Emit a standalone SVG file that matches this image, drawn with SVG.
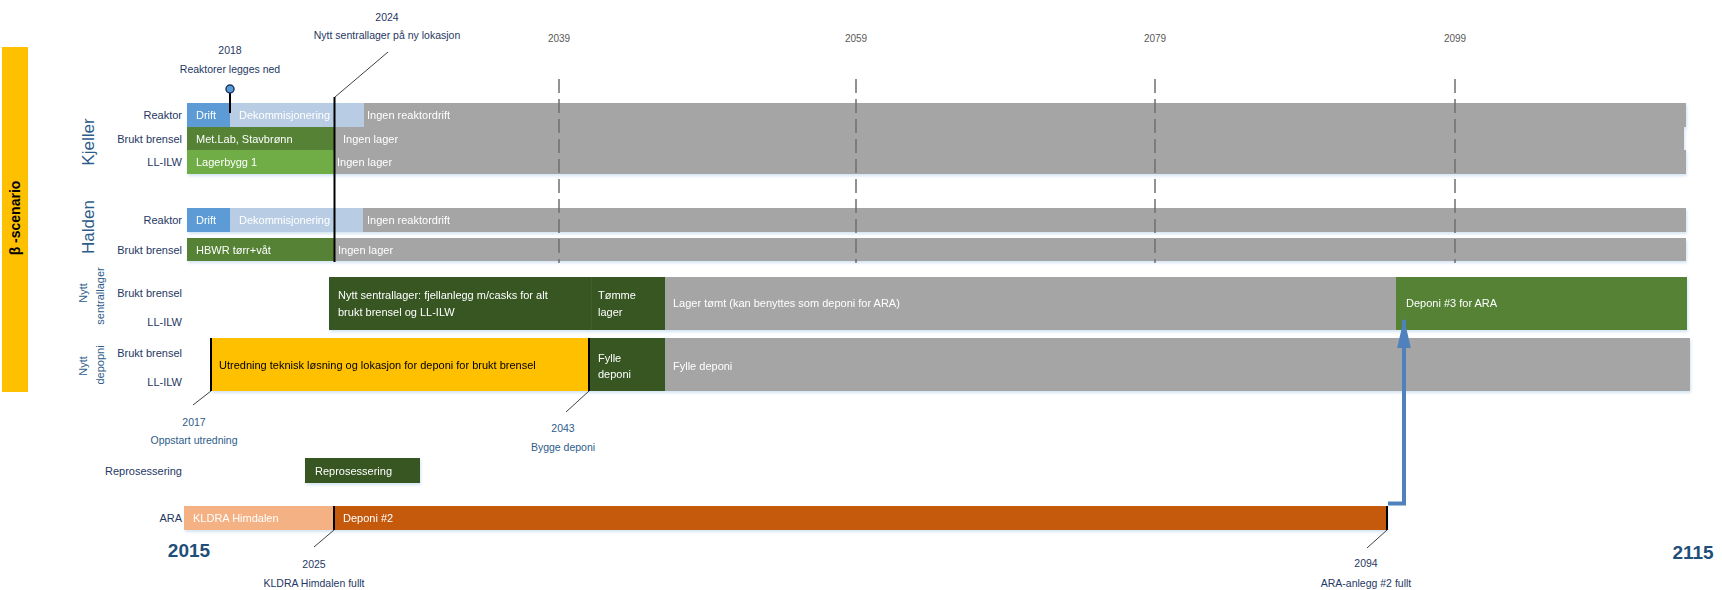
<svg xmlns="http://www.w3.org/2000/svg" width="1722" height="590" viewBox="0 0 1722 590">
<defs>
<style>
text{font-family:"Liberation Sans",Arial,sans-serif;}
.lbl{font-size:11px;fill:#1F3864;text-anchor:end;dominant-baseline:central;}
.grp{font-size:17px;fill:#2E5C8A;text-anchor:middle;dominant-baseline:central;}
.grps{font-size:11px;fill:#2E5C8A;text-anchor:middle;dominant-baseline:central;}
.bt{font-size:11px;fill:#FFFFFF;dominant-baseline:central;}
.btd{font-size:11px;fill:#000000;dominant-baseline:central;}
.yr{font-size:10px;fill:#595959;text-anchor:middle;dominant-baseline:central;}
.ann{font-size:10.5px;fill:#1F3864;text-anchor:middle;dominant-baseline:central;}
.annb{font-size:10.5px;fill:#2E5C8A;text-anchor:middle;dominant-baseline:central;}
.big{font-size:19px;font-weight:bold;fill:#1F4E79;text-anchor:middle;dominant-baseline:central;}
.dash{stroke:#6F6F6F;stroke-width:1.5;stroke-dasharray:14 6;fill:none;}
.lead{stroke:#404040;stroke-width:1;fill:none;}
.mark{stroke:#000000;stroke-width:2;fill:none;}
.gray{fill:#A5A5A5;}
.blue{fill:#5B9BD5;}
.lblue{fill:#B8CCE4;}
.green{fill:#548235;}
.lgreen{fill:#70AD47;}
.dgreen{fill:#375623;}
.yellow{fill:#FFC000;}
.peach{fill:#F4B183;}
.orange{fill:#C55A11;}
</style>
<filter id="sh" x="-5%" y="-20%" width="110%" height="160%">
<feDropShadow dx="1" dy="2" stdDeviation="1.5" flood-color="#9DC3E6" flood-opacity="0.45"/>
</filter>
<marker id="ah" markerWidth="7.5" markerHeight="3.4" refX="7" refY="1.7" orient="auto" markerUnits="strokeWidth">
<path d="M0,0 L7.5,1.7 L0,3.4 Z" fill="#4F81BD"/>
</marker>
</defs>

<!-- scenario bar -->
<g id="scenario">
<rect x="2" y="47" width="26" height="345" fill="#FFC000"/>
<text transform="translate(15,218) rotate(-90)" style="font-size:14px;font-weight:bold;fill:#000;text-anchor:middle;dominant-baseline:central;">β -scenario</text>
</g>

<!-- group labels -->
<g id="group-labels">
<text class="grp" transform="translate(88,142) rotate(-90)">Kjeller</text>
<text class="grp" transform="translate(88,227) rotate(-90)">Halden</text>
<text class="grps" transform="translate(83,293) rotate(-90)">Nytt</text>
<text class="grps" transform="translate(100,296) rotate(-90)">sentrallager</text>
<text class="grps" transform="translate(83,366) rotate(-90)">Nytt</text>
<text class="grps" transform="translate(100,365) rotate(-90)">depopni</text>
</g>

<!-- row labels -->
<g id="row-labels">
<text class="lbl" x="182" y="115">Reaktor</text>
<text class="lbl" x="182" y="138.5">Brukt brensel</text>
<text class="lbl" x="182" y="162">LL-ILW</text>
<text class="lbl" x="182" y="220">Reaktor</text>
<text class="lbl" x="182" y="250">Brukt brensel</text>
<text class="lbl" x="182" y="293">Brukt brensel</text>
<text class="lbl" x="182" y="322">LL-ILW</text>
<text class="lbl" x="182" y="353">Brukt brensel</text>
<text class="lbl" x="182" y="382">LL-ILW</text>
<text class="lbl" x="182" y="471">Reprosessering</text>
<text class="lbl" x="182" y="518">ARA</text>
</g>

<!-- Kjeller -->
<g id="kjeller-reaktor" filter="url(#sh)">
<rect class="gray" x="340" y="103" width="1346" height="24"/>
<rect class="lblue" x="230" y="103" width="134" height="24"/>
<rect class="blue" x="187" y="103" width="43" height="24"/>
<text class="bt" x="196" y="115">Drift</text>
<text class="bt" x="239" y="115">Dekommisjonering</text>
<text class="bt" x="367" y="115">Ingen reaktordrift</text>
</g>
<g id="kjeller-brukt" filter="url(#sh)">
<rect class="gray" x="335" y="127" width="1349" height="23"/>
<rect class="green" x="187" y="127" width="148" height="23"/>
<text class="bt" x="196" y="138.5">Met.Lab, Stavbrønn</text>
<text class="bt" x="343" y="138.5">Ingen lager</text>
</g>
<g id="kjeller-llilw" filter="url(#sh)">
<rect class="gray" x="335" y="150" width="1351" height="24"/>
<rect class="lgreen" x="187" y="150" width="148" height="24"/>
<text class="bt" x="196" y="162">Lagerbygg 1</text>
<text class="bt" x="337" y="162">Ingen lager</text>
</g>

<!-- Halden -->
<g id="halden-reaktor" filter="url(#sh)">
<rect class="gray" x="357" y="208" width="1329" height="24"/>
<rect class="lblue" x="230" y="208" width="133" height="24"/>
<rect class="blue" x="187" y="208" width="43" height="24"/>
<text class="bt" x="196" y="220">Drift</text>
<text class="bt" x="239" y="220">Dekommisjonering</text>
<text class="bt" x="367" y="220">Ingen reaktordrift</text>
</g>
<g id="halden-brukt" filter="url(#sh)">
<rect class="gray" x="334" y="238" width="1352" height="23"/>
<rect class="green" x="187" y="238" width="147" height="23"/>
<text class="bt" x="196" y="249.5">HBWR tørr+våt</text>
<text class="bt" x="338" y="249.5">Ingen lager</text>
</g>

<!-- Nytt sentrallager -->
<g id="sentrallager" filter="url(#sh)">
<rect class="dgreen" x="329" y="277" width="263" height="53"/>
<rect class="dgreen" x="592" y="277" width="73" height="53"/>
<line x1="591.5" y1="277" x2="591.5" y2="330" stroke="#3E5F2A" stroke-width="1"/>
<rect class="gray" x="665" y="277" width="731" height="53"/>
<rect class="green" x="1396" y="277" width="291" height="53"/>
<text class="bt" x="338" y="295">Nytt sentrallager: fjellanlegg m/casks for alt</text>
<text class="bt" x="338" y="312">brukt brensel og LL-ILW</text>
<text class="bt" x="598" y="295">Tømme</text>
<text class="bt" x="598" y="312">lager</text>
<text class="bt" x="673" y="303">Lager tømt (kan benyttes som deponi for ARA)</text>
<text class="bt" x="1406" y="303">Deponi #3 for ARA</text>
</g>

<!-- Nytt deponi -->
<g id="deponi" filter="url(#sh)">
<rect class="yellow" x="211" y="338" width="378" height="53"/>
<rect class="dgreen" x="589" y="338" width="76" height="53"/>
<rect class="gray" x="665" y="338" width="1025" height="53"/>
<text class="btd" x="219" y="365">Utredning teknisk løsning og lokasjon for deponi for brukt brensel</text>
<text class="bt" x="598" y="358">Fylle</text>
<text class="bt" x="598" y="374">deponi</text>
<text class="bt" x="673" y="366">Fylle deponi</text>
</g>

<!-- Reprosessering -->
<g id="reprosessering" filter="url(#sh)">
<rect class="dgreen" x="305" y="458" width="115" height="25"/>
<text class="bt" x="315" y="471">Reprosessering</text>
</g>

<!-- ARA -->
<g id="ara" filter="url(#sh)">
<rect class="peach" x="184" y="506" width="150" height="24"/>
<rect class="orange" x="334" y="506" width="1053" height="24"/>
<text class="bt" x="193" y="518">KLDRA Himdalen</text>
<text class="bt" x="343" y="518">Deponi #2</text>
</g>

<!-- connectors -->
<g id="connectors">
<line class="dash" x1="559" y1="79" x2="559" y2="263"/>
<line class="dash" x1="856" y1="79" x2="856" y2="263"/>
<line class="dash" x1="1155" y1="79" x2="1155" y2="263"/>
<line class="dash" x1="1455" y1="79" x2="1455" y2="263"/>
<!-- 2018 pin -->
<line x1="230" y1="92" x2="230" y2="113" stroke="#000" stroke-width="2"/>
<circle cx="230" cy="89" r="4" fill="#5B9BD5" stroke="#1F3864" stroke-width="1.5"/>
<!-- 2024 -->
<polyline class="lead" points="388,52 335,97"/>
<line class="mark" x1="334.5" y1="97" x2="334.5" y2="262"/>
<!-- 2017 -->
<line class="mark" x1="211" y1="338" x2="211" y2="391"/>
<line class="lead" x1="211" y1="391" x2="193" y2="405"/>
<!-- 2043 -->
<line class="mark" x1="589" y1="338" x2="589" y2="391"/>
<line class="lead" x1="589" y1="391" x2="566" y2="412"/>
<!-- 2025 -->
<line class="mark" x1="334" y1="506" x2="334" y2="530"/>
<line class="lead" x1="334" y1="530" x2="314" y2="547"/>
<!-- 2094 -->
<line class="mark" x1="1387" y1="506" x2="1387" y2="530"/>
<line class="lead" x1="1387" y1="530" x2="1367" y2="548"/>
<!-- arrow ARA to Deponi #3 -->
<path d="M1388,503.5 H1404 V320" stroke="#4F81BD" stroke-width="4" fill="none" marker-end="url(#ah)"/>
</g>

<!-- annotations -->
<g id="annotations">
<text class="yr" x="559" y="38">2039</text>
<text class="yr" x="856" y="38">2059</text>
<text class="yr" x="1155" y="38">2079</text>
<text class="yr" x="1455" y="38">2099</text>
<text class="ann" x="387" y="17">2024</text>
<text class="ann" x="387" y="35">Nytt sentrallager på ny lokasjon</text>
<text class="ann" x="230" y="50">2018</text>
<text class="ann" x="230" y="69">Reaktorer legges ned</text>
<text class="annb" x="194" y="422">2017</text>
<text class="annb" x="194" y="440">Oppstart utredning</text>
<text class="annb" x="563" y="428">2043</text>
<text class="annb" x="563" y="447">Bygge deponi</text>
<text class="ann" x="314" y="564">2025</text>
<text class="ann" x="314" y="583">KLDRA Himdalen fullt</text>
<text class="ann" x="1366" y="563">2094</text>
<text class="ann" x="1366" y="583">ARA-anlegg #2 fullt</text>
<text class="big" x="189" y="550">2015</text>
<text class="big" x="1693" y="552">2115</text>
</g>
</svg>
